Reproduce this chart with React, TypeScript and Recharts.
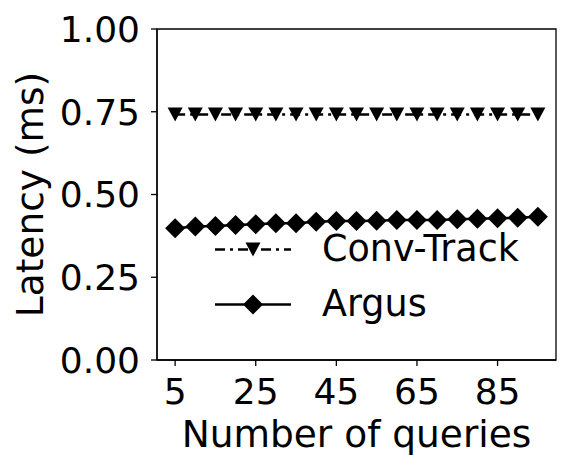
import React from 'react';
import { LineChart, Line, XAxis, YAxis, Legend, ReferenceArea } from 'recharts';

// number of queries on the x axis
const queries = [5, 10, 15, 20, 25, 30, 35, 40, 45, 50, 55, 60, 65, 70, 75, 80, 85, 90, 95];

// latency (ms)
const convTrack = [
  0.742, 0.742, 0.742, 0.742, 0.742, 0.742, 0.742, 0.742, 0.742, 0.742,
  0.742, 0.742, 0.742, 0.742, 0.742, 0.742, 0.742, 0.742, 0.742,
];
const argus = [
  0.398, 0.403, 0.405, 0.408, 0.41, 0.413, 0.413, 0.418, 0.42, 0.42,
  0.421, 0.423, 0.423, 0.423, 0.425, 0.427, 0.428, 0.43, 0.433,
];

const xTicks = [5, 25, 45, 65, 85];
const yTicks = [0, 0.25, 0.5, 0.75, 1];
const legendOrder = ['conv', 'argus'];

const data = queries.map((q, i) => ({ q, conv: convTrack[i], argus: argus[i] }));

const TICK_FONT = 36;
const LABEL_FONT = 37.5;
const LEGEND_FONT = 36.5;

const Triangle = (props: any) => {
  const { cx, cy, index } = props;
  if (cx == null || cy == null) return <g key={`t-${index}`} />;
  return (
    <path
      key={`t-${index}`}
      d={`M${cx - 7.5},${cy - 7} L${cx + 7.5},${cy - 7} L${cx},${cy + 7} Z`}
      fill="#000"
    />
  );
};

const Diamond = (props: any) => {
  const { cx, cy, index } = props;
  if (cx == null || cy == null) return <g key={`d-${index}`} />;
  return (
    <path
      key={`d-${index}`}
      d={`M${cx},${cy - 10} L${cx + 10},${cy} L${cx},${cy + 10} L${cx - 10},${cy} Z`}
      fill="#000"
    />
  );
};

function LegendIcon({ kind }: { kind: string }) {
  const c = 48;
  const y = 27.5;
  return (
    <svg width={90} height={55} style={{ display: 'block' }}>
      <line
        x1={10}
        x2={86}
        y1={y}
        y2={y}
        stroke="#000"
        strokeWidth={2.5}
        strokeDasharray={kind === 'conv' ? '10 5 3 5' : undefined}
      />
      {kind === 'conv' ? (
        <path d={`M${c - 7.5},${y - 7} L${c + 7.5},${y - 7} L${c},${y + 7} Z`} fill="#000" />
      ) : (
        <path d={`M${c},${y - 10} L${c + 10},${y} L${c},${y + 10} L${c - 10},${y} Z`} fill="#000" />
      )}
    </svg>
  );
}

const renderLegend = (props: any) => {
  const items = [...(props.payload || [])].sort(
    (a: any, b: any) => legendOrder.indexOf(a.dataKey) - legendOrder.indexOf(b.dataKey)
  );
  return (
    <div>
      {items.map((it: any) => (
        <div key={it.value} style={{ display: 'flex', alignItems: 'center', height: 55 }}>
          <LegendIcon kind={it.dataKey} />
          <span style={{ marginLeft: 27, fontSize: LEGEND_FONT, color: '#000', lineHeight: 1 }}>{it.value}</span>
        </div>
      ))}
    </div>
  );
};

export default function App() {
  return (
    <div
      style={{
        position: 'absolute',
        left: 0,
        top: 0,
        width: 571,
        height: 470,
        background: '#fff',
        fontFamily: '"DejaVu Sans", sans-serif',
      }}
    >
      <LineChart width={571} height={470} data={data} margin={{ top: 29, right: 15, bottom: 0, left: 0 }}>
        <XAxis
          dataKey="q"
          type="number"
          domain={[0.5, 99.5]}
          ticks={xTicks}
          interval={0}
          allowDataOverflow
          height={110}
          tickSize={6}
          tickMargin={12}
          stroke="#000"
          strokeWidth={1.3}
          tick={{ fill: '#000', fontSize: TICK_FONT }}
          label={{
            content: ({ viewBox }: any) => (
              <text
                x={viewBox.x + viewBox.width / 2}
                y={viewBox.y + 87}
                textAnchor="middle"
                fontSize={LABEL_FONT}
                fill="#000"
              >
                Number of queries
              </text>
            ),
          }}
        />
        <YAxis
          type="number"
          domain={[0, 1]}
          ticks={yTicks}
          interval={0}
          width={157}
          tickSize={6}
          tickMargin={11}
          stroke="#000"
          strokeWidth={1.3}
          tick={{ fill: '#000', fontSize: TICK_FONT }}
          tickFormatter={(v: number) => v.toFixed(2)}
          label={{
            content: ({ viewBox }: any) => {
              const x = viewBox.x + 43;
              const y = viewBox.y + viewBox.height / 2;
              return (
                <text
                  x={x}
                  y={y}
                  transform={`rotate(-90, ${x}, ${y})`}
                  textAnchor="middle"
                  fontSize={LABEL_FONT}
                  fill="#000"
                >
                  Latency (ms)
                </text>
              );
            },
          }}
        />
        <ReferenceArea x1={0.5} x2={99.5} y1={0} y2={1} fill="none" stroke="#000" strokeWidth={1.3} />
        <Legend
          layout="vertical"
          align="center"
          verticalAlign="middle"
          content={renderLegend}
          wrapperStyle={{ position: 'absolute', left: 205, top: 222, width: 'auto', height: 'auto' }}
        />
        <Line
          dataKey="conv"
          name="Conv-Track"
          stroke="#000"
          strokeWidth={2.5}
          strokeDasharray="10 5 3 5"
          dot={Triangle}
          activeDot={false}
          isAnimationActive={false}
        />
        <Line
          dataKey="argus"
          name="Argus"
          stroke="#000"
          strokeWidth={2.5}
          dot={Diamond}
          activeDot={false}
          isAnimationActive={false}
        />
      </LineChart>
    </div>
  );
}
